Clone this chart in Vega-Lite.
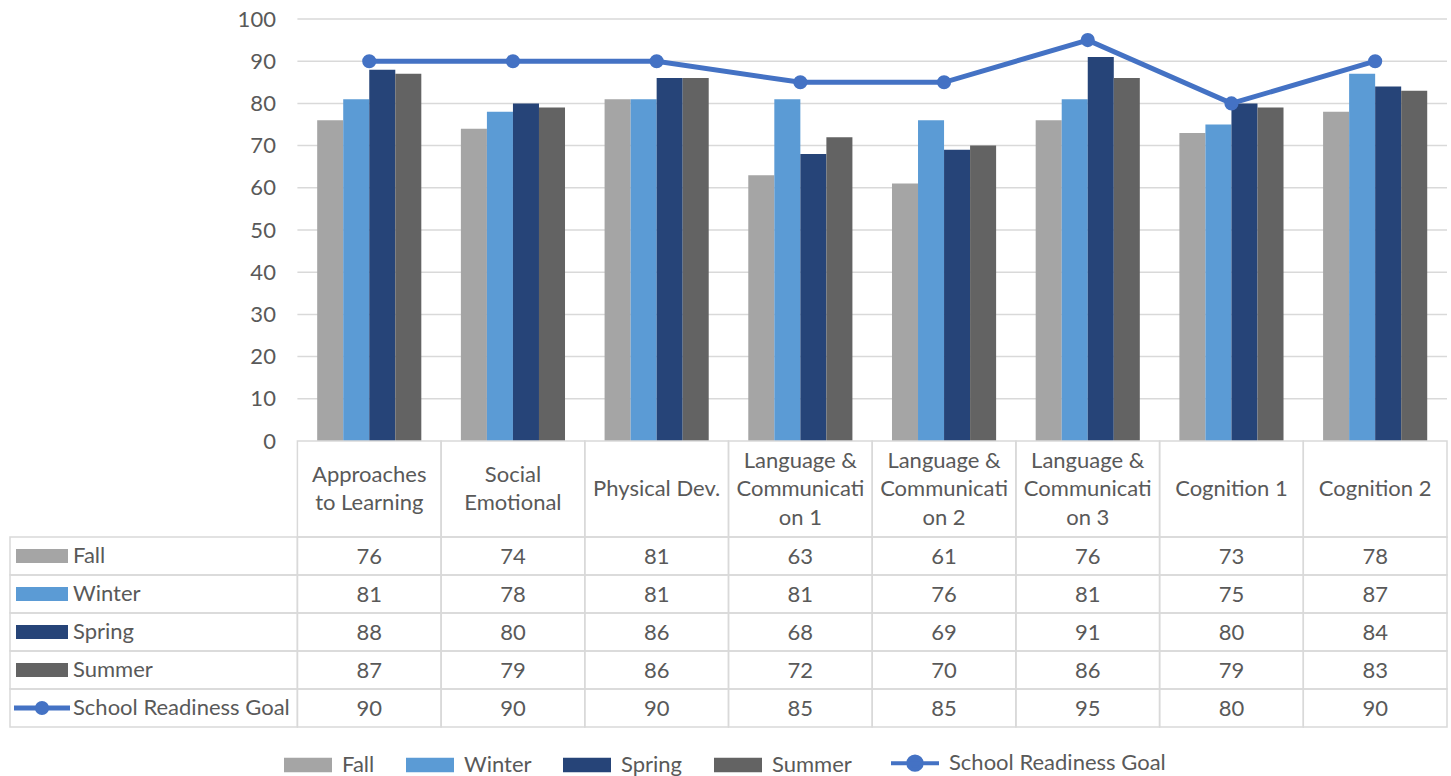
{
  "$schema": "https://vega.github.io/schema/vega-lite/v6.json",
  "width": 1437,
  "height": 708,
  "autosize": {"type": "none"},
  "padding": {"left": 10, "top": 19, "right": 4, "bottom": 49},
  "config": {"font": "Lato", "view": {"stroke": null}},
  "datasets": {
    "table": [
      {"c": "Approaches to Learning", "series": "Fall", "value": 76},
      {"c": "Social Emotional", "series": "Fall", "value": 74},
      {"c": "Physical Dev.", "series": "Fall", "value": 81},
      {"c": "Language & Communication 1", "series": "Fall", "value": 63},
      {"c": "Language & Communication 2", "series": "Fall", "value": 61},
      {"c": "Language & Communication 3", "series": "Fall", "value": 76},
      {"c": "Cognition 1", "series": "Fall", "value": 73},
      {"c": "Cognition 2", "series": "Fall", "value": 78},
      {"c": "Approaches to Learning", "series": "Winter", "value": 81},
      {"c": "Social Emotional", "series": "Winter", "value": 78},
      {"c": "Physical Dev.", "series": "Winter", "value": 81},
      {"c": "Language & Communication 1", "series": "Winter", "value": 81},
      {"c": "Language & Communication 2", "series": "Winter", "value": 76},
      {"c": "Language & Communication 3", "series": "Winter", "value": 81},
      {"c": "Cognition 1", "series": "Winter", "value": 75},
      {"c": "Cognition 2", "series": "Winter", "value": 87},
      {"c": "Approaches to Learning", "series": "Spring", "value": 88},
      {"c": "Social Emotional", "series": "Spring", "value": 80},
      {"c": "Physical Dev.", "series": "Spring", "value": 86},
      {"c": "Language & Communication 1", "series": "Spring", "value": 68},
      {"c": "Language & Communication 2", "series": "Spring", "value": 69},
      {"c": "Language & Communication 3", "series": "Spring", "value": 91},
      {"c": "Cognition 1", "series": "Spring", "value": 80},
      {"c": "Cognition 2", "series": "Spring", "value": 84},
      {"c": "Approaches to Learning", "series": "Summer", "value": 87},
      {"c": "Social Emotional", "series": "Summer", "value": 79},
      {"c": "Physical Dev.", "series": "Summer", "value": 86},
      {"c": "Language & Communication 1", "series": "Summer", "value": 72},
      {"c": "Language & Communication 2", "series": "Summer", "value": 70},
      {"c": "Language & Communication 3", "series": "Summer", "value": 86},
      {"c": "Cognition 1", "series": "Summer", "value": 79},
      {"c": "Cognition 2", "series": "Summer", "value": 83},
      {"c": "Approaches to Learning", "series": "School Readiness Goal", "value": 90},
      {"c": "Social Emotional", "series": "School Readiness Goal", "value": 90},
      {"c": "Physical Dev.", "series": "School Readiness Goal", "value": 90},
      {"c": "Language & Communication 1", "series": "School Readiness Goal", "value": 85},
      {"c": "Language & Communication 2", "series": "School Readiness Goal", "value": 85},
      {"c": "Language & Communication 3", "series": "School Readiness Goal", "value": 95},
      {"c": "Cognition 1", "series": "School Readiness Goal", "value": 80},
      {"c": "Cognition 2", "series": "School Readiness Goal", "value": 90}
    ],
    "headers": [
      {"c": "Approaches to Learning", "label": "Approaches\nto Learning"},
      {"c": "Social Emotional", "label": "Social\nEmotional"},
      {"c": "Physical Dev.", "label": "Physical Dev."},
      {"c": "Language & Communication 1", "label": "Language &\nCommunicati\non 1"},
      {"c": "Language & Communication 2", "label": "Language &\nCommunicati\non 2"},
      {"c": "Language & Communication 3", "label": "Language &\nCommunicati\non 3"},
      {"c": "Cognition 1", "label": "Cognition 1"},
      {"c": "Cognition 2", "label": "Cognition 2"}
    ],
    "rows": [
      {"series": "Fall"},
      {"series": "Winter"},
      {"series": "Spring"},
      {"series": "Summer"},
      {"series": "School Readiness Goal"}
    ],
    "grid": [
      {"v": 10}, {"v": 20}, {"v": 30}, {"v": 40}, {"v": 50},
      {"v": 60}, {"v": 70}, {"v": 80}, {"v": 90}, {"v": 100}
    ]
  },
  "resolve": {"scale": {"y": "independent"}},
  "layer": [
    {
      "layer": [
        {
          "data": {"name": "grid"},
          "mark": {"type": "rule", "color": "#d9d9d9", "strokeWidth": 1.5},
          "encoding": {
            "x": {"datum": "Approaches to Learning", "bandPosition": 0, "type": "nominal", "axis": null,
              "scale": {"domain": ["_a", "_b", "Approaches to Learning", "Social Emotional", "Physical Dev.", "Language & Communication 1", "Language & Communication 2", "Language & Communication 3", "Cognition 1", "Cognition 2"], "paddingInner": 0, "paddingOuter": 0}},
            "x2": {"datum": "Cognition 2", "bandPosition": 1},
            "y": {"field": "v", "type": "quantitative",
              "scale": {"domain": [0, 100], "range": [422, 0], "nice": false},
              "axis": {"values": [0, 10, 20, 30, 40, 50, 60, 70, 80, 90, 100], "offset": -287.4, "domain": false, "ticks": false, "grid": false, "title": null, "labelFontSize": 22, "labelColor": "#595959", "labelPadding": 22}}
          }
        },
        {
          "data": {"name": "table"},
          "transform": [{"filter": "datum.series !== 'School Readiness Goal'"}],
          "mark": {"type": "bar"},
          "encoding": {
            "x": {"field": "c", "type": "nominal", "axis": null},
            "xOffset": {"field": "series", "type": "nominal",
              "scale": {"domain": ["Fall", "Winter", "Spring", "Summer"], "paddingInner": 0, "paddingOuter": 0.76}},
            "y": {"field": "value", "type": "quantitative"},
            "color": {"field": "series", "type": "nominal",
              "scale": {"domain": ["Fall", "Winter", "Spring", "Summer", "School Readiness Goal"], "range": ["#a5a5a5", "#5b9bd5", "#264478", "#636363", "#4472c4"]},
              "legend": {"orient": "none", "legendX": 274, "legendY": 733, "direction": "horizontal", "title": null,
                "symbolSize": 2304, "labelFontSize": 22, "labelColor": "#595959", "labelOffset": 10, "columnPadding": 31, "labelLimit": 400,
                "symbolType": "M-1,-0.3H1V0.3H-1Z",
                "encode": {
                  "symbols": {"update": {
                    "x": {"value": 24},
                    "size": {"value": 2304},
                    "shape": {"signal": "datum.value === 'School Readiness Goal' ? 'M-1,0H1M0.28,0A0.28,0.28,0,1,1,-0.28,0A0.28,0.28,0,1,1,0.28,0' : 'M-1,-0.3H1V0.3H-1Z'"},
                    "fill": {"scale": "color", "field": "value"},
                    "stroke": {"scale": "color", "field": "value"},
                    "strokeWidth": {"signal": "datum.value === 'School Readiness Goal' ? 4 : 0"},
                    "opacity": {"value": 1}
                  }},
                  "labels": {"update": {"x": {"value": 58}}}
                }}
            }
          }
        },
        {
          "data": {"name": "table"},
          "transform": [{"filter": "datum.series === 'School Readiness Goal'"}],
          "mark": {"type": "line", "strokeWidth": 5, "point": {"filled": true, "size": 200}},
          "encoding": {
            "x": {"field": "c", "type": "nominal", "axis": null},
            "y": {"field": "value", "type": "quantitative"},
            "color": {"field": "series", "type": "nominal"}
          }
        }
      ]
    },
    {
      "layer": [
        {
          "data": {"name": "table"},
          "mark": {"type": "rect", "fill": "transparent", "stroke": "#d9d9d9", "strokeWidth": 1.5},
          "encoding": {
            "x": {"field": "c", "type": "nominal", "axis": null},
            "y": {"field": "series", "type": "nominal", "axis": null,
              "scale": {"domain": ["Fall", "Winter", "Spring", "Summer", "School Readiness Goal"], "range": [518, 708], "paddingInner": 0, "paddingOuter": 0}}
          }
        },
        {
          "data": {"name": "rows"},
          "mark": {"type": "rect", "fill": "transparent", "stroke": "#d9d9d9", "strokeWidth": 1.5},
          "encoding": {
            "x": {"datum": "_a", "bandPosition": 0, "type": "nominal", "axis": null},
            "x2": {"datum": "Approaches to Learning", "bandPosition": 0},
            "y": {"field": "series", "type": "nominal", "axis": null}
          }
        },
        {
          "data": {"name": "table"},
          "mark": {"type": "text", "fontSize": 22, "color": "#595959", "dy": 1},
          "encoding": {
            "x": {"field": "c", "type": "nominal", "axis": null},
            "y": {"field": "series", "type": "nominal", "axis": null},
            "text": {"field": "value", "type": "quantitative"}
          }
        },
        {
          "data": {"name": "rows"},
          "mark": {"type": "text", "fontSize": 22, "color": "#595959", "align": "left", "xOffset": 63},
          "encoding": {
            "x": {"datum": "_a", "bandPosition": 0, "type": "nominal", "axis": null},
            "y": {"field": "series", "type": "nominal", "axis": null},
            "text": {"field": "series", "type": "nominal"}
          }
        },
        {
          "data": {"name": "rows"},
          "transform": [{"filter": "datum.series !== 'School Readiness Goal'"}],
          "mark": {"type": "point", "filled": true, "opacity": 1, "shape": "M-1,-0.27H1V0.27H-1Z", "size": 2704, "xOffset": 32},
          "encoding": {
            "x": {"datum": "_a", "bandPosition": 0, "type": "nominal", "axis": null},
            "y": {"field": "series", "type": "nominal", "axis": null},
            "color": {"field": "series", "type": "nominal"}
          }
        },
        {
          "data": {"name": "rows"},
          "transform": [{"filter": "datum.series === 'School Readiness Goal'"}],
          "mark": {"type": "point", "filled": false, "opacity": 1, "shape": "M-1,0H1", "size": 3136, "strokeWidth": 5, "xOffset": 32},
          "encoding": {
            "x": {"datum": "_a", "bandPosition": 0, "type": "nominal", "axis": null},
            "y": {"field": "series", "type": "nominal", "axis": null},
            "color": {"field": "series", "type": "nominal"}
          }
        },
        {
          "data": {"name": "rows"},
          "transform": [{"filter": "datum.series === 'School Readiness Goal'"}],
          "mark": {"type": "point", "filled": true, "opacity": 1, "shape": "circle", "size": 200, "xOffset": 32},
          "encoding": {
            "x": {"datum": "_a", "bandPosition": 0, "type": "nominal", "axis": null},
            "y": {"field": "series", "type": "nominal", "axis": null},
            "color": {"field": "series", "type": "nominal"}
          }
        }
      ]
    },
    {
      "layer": [
        {
          "data": {"name": "headers"},
          "mark": {"type": "rect", "fill": "transparent", "stroke": "#d9d9d9", "strokeWidth": 1.5},
          "encoding": {
            "x": {"field": "c", "type": "nominal", "axis": null},
            "y": {"datum": "header", "type": "nominal", "axis": null,
              "scale": {"domain": ["header"], "range": [422, 518], "paddingInner": 0, "paddingOuter": 0}}
          }
        },
        {
          "data": {"name": "headers"},
          "transform": [{"filter": "indexof(datum.label, '\\n') < 0"}],
          "mark": {"type": "text", "fontSize": 22, "color": "#595959", "lineBreak": "\n", "lineHeight": 28.5},
          "encoding": {
            "x": {"field": "c", "type": "nominal", "axis": null},
            "y": {"datum": "header", "type": "nominal", "axis": null},
            "text": {"field": "label", "type": "nominal"}
          }
        },
        {
          "data": {"name": "headers"},
          "transform": [{"filter": "indexof(datum.label, '\\n') >= 0 && indexof(datum.label, '\\n') === lastindexof(datum.label, '\\n')"}],
          "mark": {"type": "text", "fontSize": 22, "color": "#595959", "lineBreak": "\n", "lineHeight": 28.5, "dy": -14.25},
          "encoding": {
            "x": {"field": "c", "type": "nominal", "axis": null},
            "y": {"datum": "header", "type": "nominal", "axis": null},
            "text": {"field": "label", "type": "nominal"}
          }
        },
        {
          "data": {"name": "headers"},
          "transform": [{"filter": "indexof(datum.label, '\\n') >= 0 && indexof(datum.label, '\\n') !== lastindexof(datum.label, '\\n')"}],
          "mark": {"type": "text", "fontSize": 22, "color": "#595959", "lineBreak": "\n", "lineHeight": 28.5, "dy": -28.5},
          "encoding": {
            "x": {"field": "c", "type": "nominal", "axis": null},
            "y": {"datum": "header", "type": "nominal", "axis": null},
            "text": {"field": "label", "type": "nominal"}
          }
        }
      ]
    }
  ]
}
